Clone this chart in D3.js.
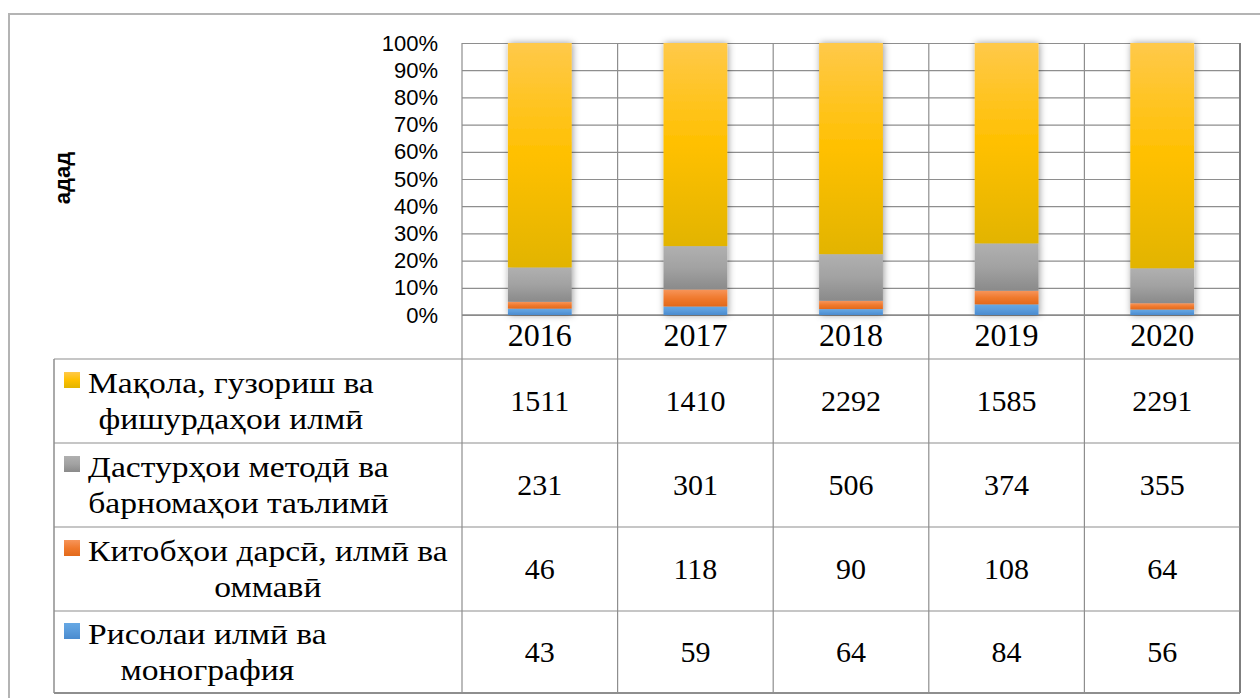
<!DOCTYPE html>
<html>
<head>
<meta charset="utf-8">
<script src="https://cdn.jsdelivr.net/npm/d3@7"></script>
<style>
  body { margin: 0; background: #fff; }
  svg { display: block; }
</style>
</head>
<body>
<div id="chart"></div>
<script>
let years = ["2016", "2017", "2018", "2019", "2020"];
let makola = [1511, 1410, 2292, 1585, 2291];
let dastur = [231, 301, 506, 374, 355];
let kitob = [46, 118, 90, 108, 64];
let risola = [43, 59, 64, 84, 56];

// legend names, top row first (as in the table)
let seriesNames = [
  ["Мақола, гузориш ва", "фишурдаҳои илмӣ"],
  ["Дастурҳои методӣ ва", "барномаҳои таълимӣ"],
  ["Китобҳои дарсӣ, илмӣ ва", "оммавӣ"],
  ["Рисолаи илмӣ ва", "монография"]
];
let seriesValues = [makola, dastur, kitob, risola];
let yTicks = [0, 0.1, 0.2, 0.3, 0.4, 0.5, 0.6, 0.7, 0.8, 0.9, 1];
let axisTitle = "адад";

// gradient stops: [top, middle, bottom]
let colors = {
  makola: ["#FFC94A", "#FFC000", "#E2B400"],
  dastur: ["#B0B0B0", "#A2A2A2", "#8A8A8A"],
  kitob: ["#F7955A", "#F07A2E", "#E2691B"],
  risola: ["#66A8E4", "#5A9BDB", "#4A8BCF"]
};
let keys = ["risola", "kitob", "dastur", "makola"]; // bottom to top
let tableKeys = ["makola", "dastur", "kitob", "risola"];

let width = 1260,
  height = 698;

let plotLeft = 462, plotRight = 1240, plotTop = 43, plotBottom = 315;
let tableLeft = 54;
let rowLines = [359, 443, 527, 611, 693];

let serif = "'Liberation Serif', 'Times New Roman', 'DejaVu Serif', serif";
let sans = "'Liberation Sans', Arial, sans-serif";

let svg = d3.select("#chart")
  .append("svg")
  .attr("width", width)
  .attr("height", height);

let defs = svg.append("defs");
keys.forEach(k => {
  let g = defs.append("linearGradient")
    .attr("id", "grad-" + k)
    .attr("x1", 0).attr("y1", 0).attr("x2", 0).attr("y2", 1);
  g.append("stop").attr("offset", "0%").attr("stop-color", colors[k][0]);
  g.append("stop").attr("offset", "50%").attr("stop-color", colors[k][1]);
  g.append("stop").attr("offset", "100%").attr("stop-color", colors[k][2]);
});
let shadow = defs.append("filter").attr("id", "shadow")
  .attr("x", "-30%").attr("y", "-5%").attr("width", "160%").attr("height", "110%");
shadow.append("feDropShadow")
  .attr("dx", 1).attr("dy", 0).attr("stdDeviation", 3.5)
  .attr("flood-color", "#000").attr("flood-opacity", 0.4);

// outer frame
svg.append("path")
  .attr("d", `M9,${height}V14H${width}`)
  .attr("fill", "none")
  .attr("stroke", "#b4b4b4")
  .attr("stroke-width", 2);

let data = years.map((y, i) => ({
  year: y,
  makola: makola[i],
  dastur: dastur[i],
  kitob: kitob[i],
  risola: risola[i]
}));

let stacked = d3.stack().keys(keys).offset(d3.stackOffsetExpand)(data);

let x = d3.scaleBand()
  .domain(years)
  .range([plotLeft, plotRight])
  .paddingInner(0.59)
  .paddingOuter(0.295);

let cols = d3.scaleBand()
  .domain(years)
  .range([plotLeft, plotRight]);

let y = d3.scaleLinear()
  .domain([0, 1])
  .range([plotBottom, plotTop]);

// horizontal grid + percent labels
let yAxis = svg.append("g")
  .attr("transform", `translate(${plotLeft},0)`)
  .call(d3.axisLeft(y).tickValues(yTicks).tickFormat(d3.format(".0%")).tickSize(-(plotRight - plotLeft)).tickPadding(24));
yAxis.select(".domain").remove();
yAxis.selectAll(".tick line")
  .attr("stroke", "#8e8e8e")
  .attr("stroke-width", 1.2);
yAxis.selectAll(".tick text")
  .attr("fill", "#000")
  .style("font-family", sans)
  .style("font-size", "22px");

// vertical column lines (chart + table)
let colEdges = years.map(d => cols(d)).concat([plotRight]);
svg.append("g")
  .selectAll("line")
  .data(colEdges)
  .join("line")
  .attr("x1", d => d).attr("x2", d => d)
  .attr("y1", plotTop).attr("y2", rowLines[rowLines.length - 1])
  .attr("stroke", (d, i) => i === colEdges.length - 1 ? "#7f7f7f" : "#8e8e8e")
  .attr("stroke-width", (d, i) => i === colEdges.length - 1 ? 2 : 1.2);

// table horizontal lines
svg.append("g")
  .selectAll("line")
  .data(rowLines)
  .join("line")
  .attr("x1", tableLeft).attr("x2", plotRight)
  .attr("y1", d => d).attr("y2", d => d)
  .attr("stroke", "#8e8e8e")
  .attr("stroke-width", (d, i) => i === rowLines.length - 1 ? 2 : 1.2);

svg.append("line")
  .attr("x1", tableLeft).attr("x2", tableLeft)
  .attr("y1", rowLines[0]).attr("y2", rowLines[rowLines.length - 1])
  .attr("stroke", "#8e8e8e")
  .attr("stroke-width", 1.5);

svg.append("line")
  .attr("x1", plotLeft).attr("x2", plotRight)
  .attr("y1", plotBottom).attr("y2", plotBottom)
  .attr("stroke", "#8a8a8a")
  .attr("stroke-width", 1.5);

// bars
let barG = svg.append("g").attr("filter", "url(#shadow)");
stacked.forEach(s => {
  barG.append("g")
    .selectAll("rect")
    .data(s)
    .join("rect")
    .attr("x", d => x(d.data.year))
    .attr("width", x.bandwidth())
    .attr("y", d => y(d[1]))
    .attr("height", d => y(d[0]) - y(d[1]))
    .attr("fill", `url(#grad-${s.key})`);
});

// year labels
svg.append("g")
  .selectAll("text")
  .data(years)
  .join("text")
  .attr("x", d => cols(d) + cols.bandwidth() / 2)
  .attr("y", 346)
  .attr("text-anchor", "middle")
  .style("font-family", serif)
  .style("font-size", "32px")
  .text(d => d);

// table rows
let labelStretch = 1.12;
tableKeys.forEach((k, r) => {
  let top = rowLines[r], bottom = rowLines[r + 1];
  let mid = (top + bottom) / 2;
  let vals = seriesValues[r];

  let row = svg.append("g");

  row.selectAll("text.val")
    .data(vals)
    .join("text")
    .attr("class", "val")
    .attr("x", (d, i) => cols(years[i]) + cols.bandwidth() / 2)
    .attr("y", mid + 10)
    .attr("text-anchor", "middle")
    .style("font-family", serif)
    .style("font-size", "30px")
    .text(d => d);

  row.append("rect")
    .attr("x", 64)
    .attr("y", mid - 29)
    .attr("width", 16)
    .attr("height", 16)
    .attr("fill", `url(#grad-${k})`);

  let label = row.append("g")
    .attr("transform", `translate(88,0) scale(${labelStretch},1)`)
    .append("text")
    .attr("text-anchor", "middle")
    .style("font-family", serif)
    .style("font-size", "30px");
  seriesNames[r].forEach((t, j) => {
    label.append("tspan")
      .attr("y", mid - 8 + j * 36)
      .text(t);
  });
  let maxW = d3.max(label.selectAll("tspan").nodes(), n => n.getComputedTextLength());
  label.selectAll("tspan").attr("x", maxW / 2);
});

// axis title
svg.append("text")
  .attr("transform", "translate(70,178) rotate(-90)")
  .attr("text-anchor", "middle")
  .style("font-family", sans)
  .style("font-weight", "bold")
  .style("font-size", "22px")
  .text(axisTitle);
</script>
</body>
</html>
